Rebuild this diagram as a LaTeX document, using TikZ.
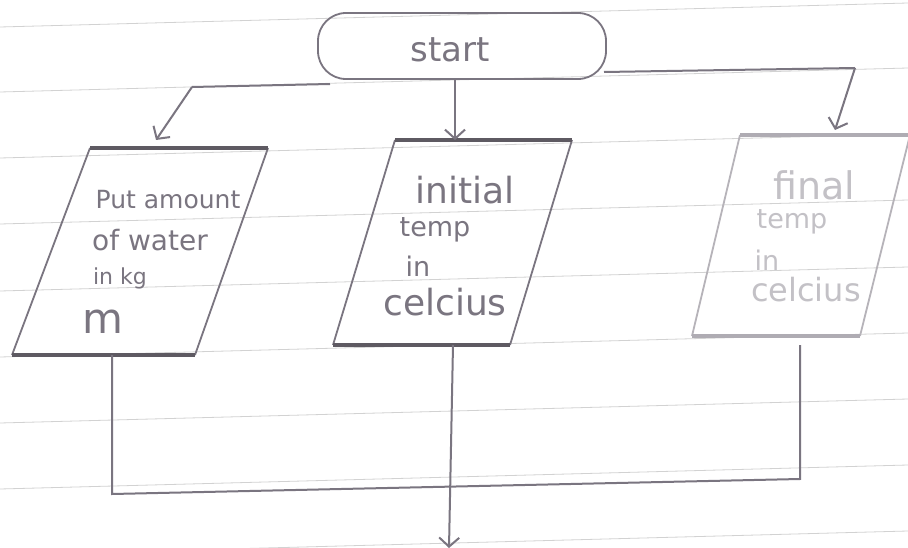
\documentclass[tikz,border=0pt]{standalone}
\usepackage{fontspec}
\setmainfont{DejaVu Sans}
\usetikzlibrary{arrows.meta}
\definecolor{pencil}{HTML}{7A7580}
\definecolor{pencild}{HTML}{5E5A62}
\definecolor{paperline}{HTML}{D2D2D2}
\tikzset{
  edge/.style={draw=pencil, line width=1.8pt, line join=round},
  rim/.style={draw=pencild, line width=3.4pt},
  flow/.style={draw=pencil, line width=2pt},
  arr/.style={flow, -{Straight Barb[length=9pt,width=20pt,line width=2pt]}},
  hand/.style={text=pencil, font=\fontsize{27}{29}\selectfont, inner sep=0pt},
  faint/.style={text=pencil!45, font=\fontsize{27}{29}\selectfont, inner sep=0pt},
  ruled/.style={draw=paperline, line width=0.8pt}
}
\begin{document}
\begin{tikzpicture}[x=1pt,y=-1pt]
\useasboundingbox (0,0) rectangle (908,548);
\fill[white] (0,0) rectangle (908,548);
% paper ruling
\foreach \yy in {15,80,146,212,279,345,411,477,543}
  \draw[ruled] (0,\yy+12) -- (908,\yy-12);

% start terminal
\node[draw=pencil, line width=1.8pt, rounded corners=28pt, minimum width=288pt,
      minimum height=66pt, text=pencil] (start) at (462,46) {};
\node[text=pencil, font=\fontsize{34}{36}\selectfont, inner sep=0pt] (start-t) at (450,50) {start};

% parallelograms (corners as named coordinates)
\coordinate (a1) at (90,148);  \coordinate (a2) at (268,148);
\coordinate (a3) at (195,355); \coordinate (a4) at (12,355);
\coordinate (b1) at (395,140); \coordinate (b2) at (572,140);
\coordinate (b3) at (510,345); \coordinate (b4) at (333,345);
\coordinate (c1) at (740,135); \coordinate (c2) at (910,135);
\coordinate (c3) at (860,336); \coordinate (c4) at (692,336);

\draw[edge] (a1) -- (a4); \draw[edge] (a2) -- (a3);
\draw[rim] (a1) -- (a2); \draw[rim] (a4) -- (a3);
\draw[edge] (b1) -- (b4); \draw[edge] (b2) -- (b3);
\draw[rim] (b1) -- (b2); \draw[rim] (b4) -- (b3);
\draw[edge, draw=pencil!55] (c1) -- (c4); \draw[edge, draw=pencil!55] (c2) -- (c3);
\draw[rim, draw=pencil!60] (c1) -- (c2); \draw[rim, draw=pencil!60] (c4) -- (c3);

% texts
\node[hand, font=\fontsize{25}{27}\selectfont] (a-t1) at (168,200) {Put amount};
\node[hand, font=\fontsize{28}{30}\selectfont] (a-t2) at (150,240) {of water};
\node[hand, font=\fontsize{22}{24}\selectfont] (a-t3) at (120,278) {in kg};
\node[hand, font=\fontsize{42}{44}\selectfont] (a-t4) at (103,322) {m};
\node[hand, font=\fontsize{36}{38}\selectfont] (b-t1) at (465,190) {initial};
\node[hand] (b-t2) at (435,230) {temp};
\node[hand] (b-t3) at (418,266) {in};
\node[hand, font=\fontsize{36}{38}\selectfont] (b-t4) at (445,302) {celcius};
\node[faint, font=\fontsize{38}{40}\selectfont] (c-t1) at (814,185) {f{}inal};
\node[faint] (c-t2) at (792,222) {temp};
\node[faint] (c-t3) at (767,260) {in};
\node[faint, font=\fontsize{32}{34}\selectfont] (c-t4) at (806,290) {celcius};

% arrow targets and junctions
\coordinate (sbl) at (330,84);
\coordinate (jl) at (192,87);
\coordinate (tl) at (156,140);
\coordinate (sbm) at (455,79);
\coordinate (tm) at (455,140);
\coordinate (sr) at (604,72);
\coordinate (jr) at (855,68);
\coordinate (tr) at (835,130);
\coordinate (la) at (112,355);
\coordinate (lb) at (112,494);
\coordinate (rb) at (800,479);
\coordinate (ra) at (800,345);
\coordinate (ma) at (453,345);
\coordinate (mo) at (449,548);

\draw[flow] (sbl) -- (jl);
\draw[arr] (jl) -- (tl);
\draw[arr] (sbm) -- (tm);
\draw[flow] (sr) -- (jr);
\draw[arr] (jr) -- (tr);
\draw[flow] (la) -- (lb) -- (rb) -- (ra);
\draw[arr] (ma) -- (mo);
\end{tikzpicture}
\end{document}
